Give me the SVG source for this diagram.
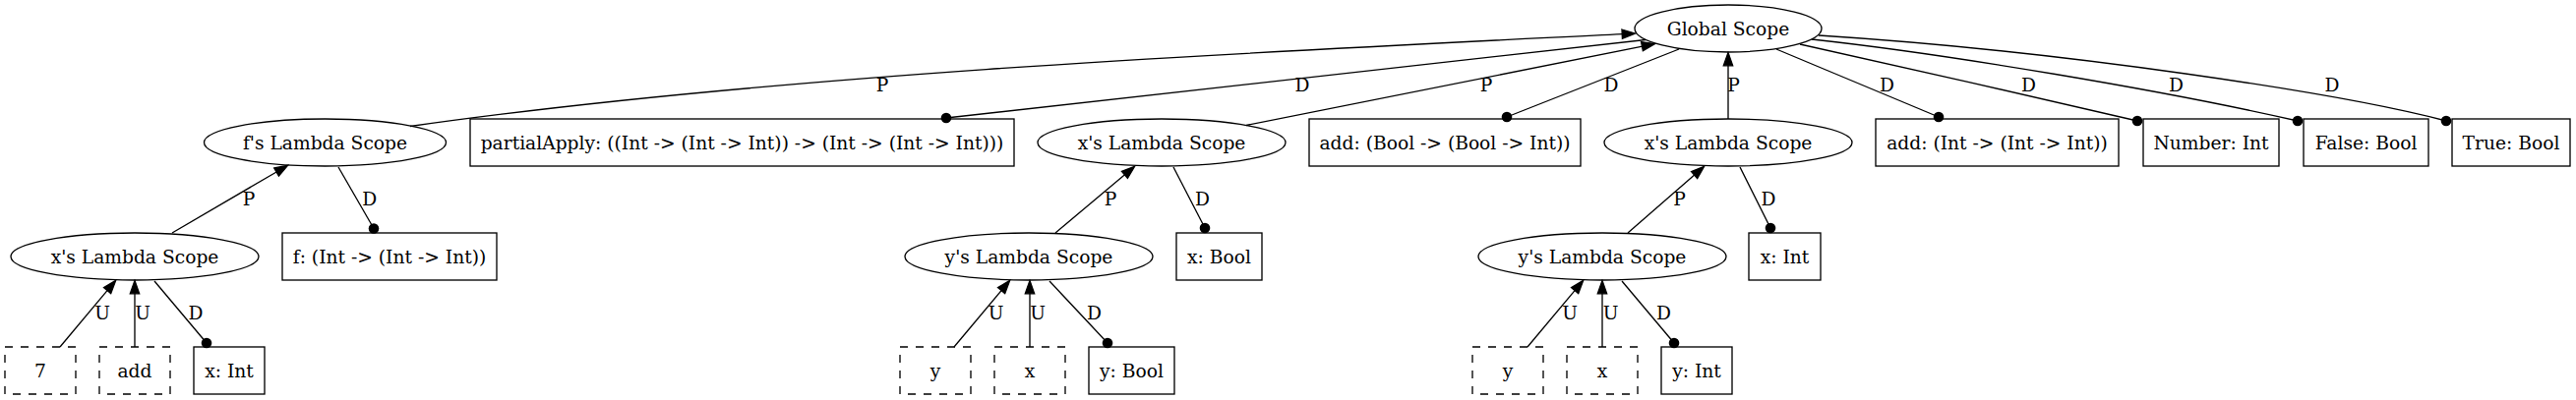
<svg xmlns="http://www.w3.org/2000/svg" width="2619" height="407" viewBox="0 0 2619 407">
<style>
text{font-family:"DejaVu Serif","Liberation Serif",serif;font-size:18.67px;fill:#000;text-anchor:middle}
.n{fill:#fff;stroke:#000;stroke-width:1.33}
.d{fill:#fff;stroke:#000;stroke-width:1.33;stroke-dasharray:8,8}
.e{fill:none;stroke:#000;stroke-width:1.33}
.a{marker-end:url(#arr)}
.o{marker-end:url(#dot)}
</style>
<defs>
<marker id="arr" markerUnits="userSpaceOnUse" markerWidth="15" markerHeight="11" refX="0.5" refY="5.17" orient="auto" viewBox="-0.5 0.5 15 10.33" overflow="visible"><path d="M0,0.5 L13.3,5.17 L0,9.83 z" fill="#000" stroke="#000" stroke-width="1.33"/></marker>
<marker id="dot" markerUnits="userSpaceOnUse" markerWidth="12" markerHeight="12" refX="6" refY="6" viewBox="0 0 12 12" overflow="visible"><circle cx="6" cy="6" r="5.3" fill="#000"/></marker>
</defs>
<rect width="2619" height="407" fill="#fff"/>

<g id="global"><ellipse class="n" cx="1757" cy="29" rx="95" ry="24"/><text x="1757" y="35.5">Global Scope</text></g>
<g id="f_scope"><ellipse class="n" cx="330.5" cy="145" rx="123" ry="24"/><text x="330.5" y="151.5">f's Lambda Scope</text></g>
<g id="partialApply"><rect class="n" x="478" y="121" width="553" height="48"/><text x="754.5" y="151.5">partialApply: ((Int -&gt; (Int -&gt; Int)) -&gt; (Int -&gt; (Int -&gt; Int)))</text></g>
<g id="x_scope_mid"><ellipse class="n" cx="1181" cy="145" rx="126" ry="24"/><text x="1181" y="151.5">x's Lambda Scope</text></g>
<g id="add_bool"><rect class="n" x="1331" y="121" width="276" height="48"/><text x="1469" y="151.5">add: (Bool -&gt; (Bool -&gt; Int))</text></g>
<g id="x_scope_right"><ellipse class="n" cx="1757" cy="145" rx="126" ry="24"/><text x="1757" y="151.5">x's Lambda Scope</text></g>
<g id="add_int"><rect class="n" x="1907" y="121" width="247" height="48"/><text x="2030.5" y="151.5">add: (Int -&gt; (Int -&gt; Int))</text></g>
<g id="number"><rect class="n" x="2179" y="121" width="138" height="48"/><text x="2248" y="151.5">Number: Int</text></g>
<g id="false"><rect class="n" x="2342" y="121" width="127" height="48"/><text x="2405.5" y="151.5">False: Bool</text></g>
<g id="true"><rect class="n" x="2493" y="121" width="120" height="48"/><text x="2553" y="151.5">True: Bool</text></g>

<g id="x_scope_left"><ellipse class="n" cx="137" cy="261" rx="126" ry="24"/><text x="137" y="267.5">x's Lambda Scope</text></g>
<g id="f_decl"><rect class="n" x="287" y="237" width="218" height="48"/><text x="396" y="267.5">f: (Int -&gt; (Int -&gt; Int))</text></g>
<g id="y_scope_mid"><ellipse class="n" cx="1046" cy="261" rx="126" ry="24"/><text x="1046" y="267.5">y's Lambda Scope</text></g>
<g id="x_bool"><rect class="n" x="1196" y="237" width="87" height="48"/><text x="1239.5" y="267.5">x: Bool</text></g>
<g id="y_scope_right"><ellipse class="n" cx="1629" cy="261" rx="126" ry="24"/><text x="1629" y="267.5">y's Lambda Scope</text></g>
<g id="x_int_right"><rect class="n" x="1778" y="237" width="73" height="48"/><text x="1814.5" y="267.5">x: Int</text></g>

<g id="use_7"><rect class="d" x="5" y="353" width="72" height="48"/><text x="41" y="383.5">7</text></g>
<g id="use_add"><rect class="d" x="101" y="353" width="72" height="48"/><text x="137" y="383.5">add</text></g>
<g id="x_int_left"><rect class="n" x="197" y="353" width="72" height="48"/><text x="233" y="383.5">x: Int</text></g>
<g id="use_y_mid"><rect class="d" x="915" y="353" width="72" height="48"/><text x="951" y="383.5">y</text></g>
<g id="use_x_mid"><rect class="d" x="1011" y="353" width="72" height="48"/><text x="1047" y="383.5">x</text></g>
<g id="y_bool"><rect class="n" x="1107" y="353" width="87" height="48"/><text x="1150.5" y="383.5">y: Bool</text></g>
<g id="use_y_right"><rect class="d" x="1497" y="353" width="72" height="48"/><text x="1533" y="383.5">y</text></g>
<g id="use_x_right"><rect class="d" x="1593" y="353" width="72" height="48"/><text x="1629" y="383.5">x</text></g>
<g id="y_int"><rect class="n" x="1689" y="353" width="72" height="48"/><text x="1725" y="383.5">y: Int</text></g>

<g id="connectors">
<path class="e a" d="M417,128.5 C800,74 1300,52 1649.7,34.66"/>
<path class="e o" d="M1673,40.5 L962,120"/>
<path class="e a" d="M1267,127.5 L1669.95,47.09"/>
<path class="e o" d="M1707,50 L1532,119"/>
<path class="e a" d="M1757,121 L1757,66.3"/>
<path class="e o" d="M1806,50 L1971,119"/>
<path class="e o" d="M1830,45 C1900,60 2100,106 2173,123"/>
<path class="e o" d="M1842,40 C1980,55 2200,92 2336,123"/>
<path class="e o" d="M1849,36 C2100,52 2380,95 2487,123"/>

<path class="e a" d="M175,237 L281.52,174.71"/>
<path class="e o" d="M344,170 L380,232.5"/>
<path class="e a" d="M1073,237 L1143.81,177.55"/>
<path class="e o" d="M1193,170 L1225,232"/>
<path class="e a" d="M1655,237 L1722.97,177.74"/>
<path class="e o" d="M1769,170 L1800,232"/>

<path class="e a" d="M61,353 L109.46,295.19"/>
<path class="e a" d="M137,353 L137,298.3"/>
<path class="e o" d="M157,286 L210,349"/>
<path class="e a" d="M970,353 L1018.46,295.19"/>
<path class="e a" d="M1047,353 L1047,298.3"/>
<path class="e o" d="M1067,286 L1126,349"/>
<path class="e a" d="M1553,353 L1601.46,295.19"/>
<path class="e a" d="M1629,353 L1629,298.3"/>
<path class="e o" d="M1649,286 L1702,349"/>

<text x="897" y="93">P</text>
<text x="1324" y="93">D</text>
<text x="1511" y="93">P</text>
<text x="1638" y="93">D</text>
<text x="1762.5" y="93">P</text>
<text x="1918.5" y="93">D</text>
<text x="2062.5" y="93">D</text>
<text x="2212.5" y="93">D</text>
<text x="2371" y="93">D</text>

<text x="253" y="209">P</text>
<text x="375.7" y="209">D</text>
<text x="1129" y="209">P</text>
<text x="1222.5" y="209">D</text>
<text x="1707.5" y="209">P</text>
<text x="1798" y="209">D</text>

<text x="104" y="325">U</text>
<text x="145" y="325">U</text>
<text x="199" y="325">D</text>
<text x="1012.5" y="325">U</text>
<text x="1055" y="325">U</text>
<text x="1112.5" y="325">D</text>
<text x="1596" y="325">U</text>
<text x="1637.5" y="325">U</text>
<text x="1691.5" y="325">D</text>
</g>
</svg>
